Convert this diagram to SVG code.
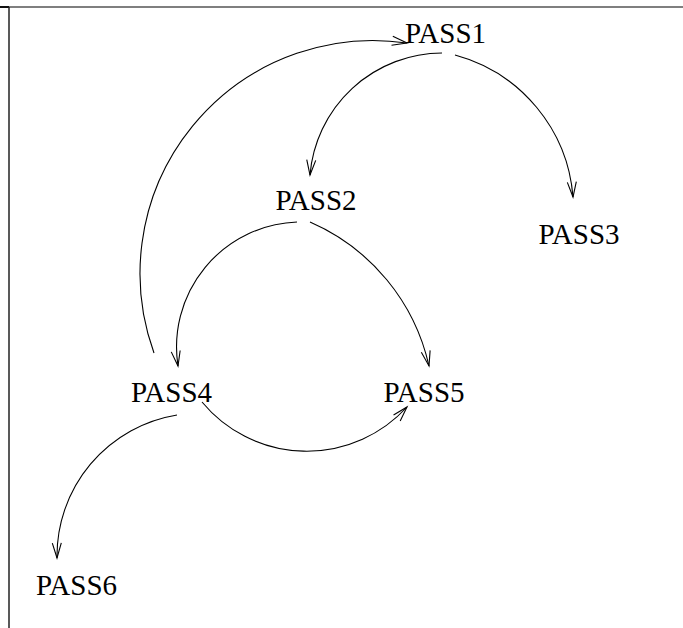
<svg xmlns="http://www.w3.org/2000/svg" width="683" height="628" viewBox="0 0 683 628">
  <defs>
    <style>
      .label { font-family: "Liberation Serif", "Times New Roman", serif; font-size: 29px; fill: #000; text-anchor: middle; }
      .edge { fill: none; stroke: #000; stroke-width: 1.1; marker-end: url(#vee); }
      .frame { stroke-width: 1.5; fill: none; }
    </style>
    <!-- open V arrowhead, tip at the path end -->
    <marker id="vee" markerUnits="userSpaceOnUse" markerWidth="17" markerHeight="11" refX="15" refY="4.5" orient="auto" overflow="visible">
      <path d="M0,0 L15,4.5 L0,9" fill="none" stroke="#000" stroke-width="1.1"/>
    </marker>
  </defs>

  <rect width="683" height="628" fill="#fff"/>

  <!-- frame edges -->
  <line class="frame" x1="0" y1="7" x2="683" y2="7" stroke="#555"/>
  <line x1="0" y1="7" x2="9" y2="7" stroke="#111" stroke-width="2"/>
  <line class="frame" x1="9" y1="7" x2="9" y2="628" stroke="#222"/>

  <g id="connectors">
    <!-- PASS4 -> PASS1 -->
    <path class="edge" d="M154,353 A233,233 0 0,1 407,43"/>
    <!-- PASS1 -> PASS2 -->
    <path class="edge" d="M442,53 A133,133 0 0,0 310,175"/>
    <!-- PASS1 -> PASS3 -->
    <path class="edge" d="M455,55 A160,160 0 0,1 573,197"/>
    <!-- PASS2 -> PASS4 -->
    <path class="edge" d="M297,222 A125,125 0 0,0 178,366"/>
    <!-- PASS2 -> PASS5 -->
    <path class="edge" d="M310,222 A206,206 0 0,1 429,366"/>
    <!-- PASS4 -> PASS5 -->
    <path class="edge" d="M202,402 A136,136 0 0,0 407,407"/>
    <!-- PASS4 -> PASS6 -->
    <path class="edge" d="M177,415 A143,143 0 0,0 57,558"/>
  </g>

  <g id="PASS1"><text class="label" x="445.5" y="43">PASS1</text></g>
  <g id="PASS2"><text class="label" x="316" y="210">PASS2</text></g>
  <g id="PASS3"><text class="label" x="579" y="244">PASS3</text></g>
  <g id="PASS4"><text class="label" x="171.5" y="402">PASS4</text></g>
  <g id="PASS5"><text class="label" x="424" y="402">PASS5</text></g>
  <g id="PASS6"><text class="label" x="76.5" y="595">PASS6</text></g>
</svg>
